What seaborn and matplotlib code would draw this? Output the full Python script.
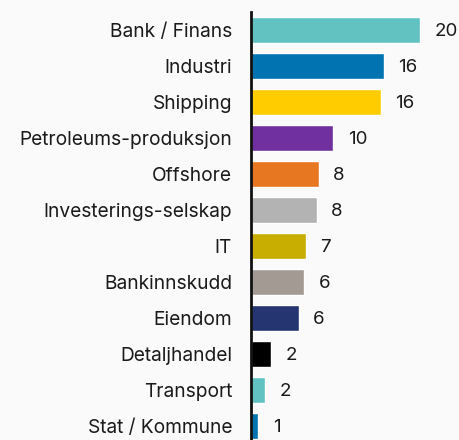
import matplotlib
matplotlib.use("Agg")
import matplotlib.pyplot as plt
import seaborn as sns
import pandas as pd

categories = [
    "Bank / Finans", "Industri", "Shipping", "Petroleums-produksjon",
    "Offshore", "Investerings-selskap", "IT", "Bankinnskudd",
    "Eiendom", "Detaljhandel", "Transport", "Stat / Kommune",
]
values = [20.4, 16.0, 15.6, 9.9, 8.1, 7.9, 6.6, 6.4, 5.7, 2.4, 1.6, 0.8]
colors = [
    "#62C2C2", "#0073B0", "#FFCC00", "#70309F", "#E87722", "#B3B3B3",
    "#C8AE00", "#A39A94", "#253571", "#000000", "#62C2C2", "#0073B0",
]

df = pd.DataFrame({"sektor": categories, "andel": values})

sns.set_theme(style="white")
plt.rcParams["font.family"] = ["Inter", "DejaVu Sans"]

bg = "#FAFAFA"
fig = plt.figure(figsize=(4.6, 4.4), dpi=100, facecolor=bg)
ax = fig.add_axes([251.5 / 460, 0.0, 1 - 251.5 / 460, (440 - 12) / 440])
ax.set_facecolor(bg)

sns.barplot(
    data=df, x="andel", y="sektor", hue="sektor", palette=colors,
    order=categories, hue_order=categories, orient="h", width=0.72,
    legend=False, ax=ax, saturation=1,
)

for i, v in enumerate(values):
    ax.text(v + 1.75, i, f"{v:.0f}", va="center_baseline", ha="left",
            fontsize=13.5, color="#1a1a1a")

ax.set_xlim(0, 25.2)
ax.set_ylim(11.39, -0.5)
ax.set_xlabel("")
ax.set_ylabel("")
ax.set_xticks([])
ax.tick_params(axis="y", length=0, pad=14, labelsize=13.8, labelcolor="#1a1a1a")
for s in ["top", "right", "bottom"]:
    ax.spines[s].set_visible(False)
ax.spines["left"].set_color("#111111")
ax.spines["left"].set_linewidth(2)

fig.savefig("out.png", dpi=100, facecolor=bg)
